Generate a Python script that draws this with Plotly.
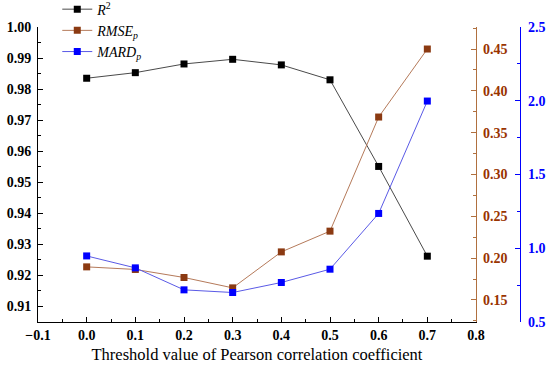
import plotly.graph_objects as go

thresholds = [0.0, 0.1, 0.2, 0.3, 0.4, 0.5, 0.6, 0.7]
r2 = [0.9835, 0.9853, 0.9881, 0.9896, 0.9878, 0.9830, 0.9551, 0.9262]
rmse_p = [0.1896, 0.1865, 0.1769, 0.1645, 0.2075, 0.2323, 0.3687, 0.4500]
mard_p = [0.948, 0.867, 0.718, 0.700, 0.768, 0.858, 1.236, 1.998]

x_title = "Threshold value of Pearson correlation coefficient"
names = ["<i>R</i><sup>2</sup>", "<i>RMSE</i><sub><i>p</i></sub>", "<i>MARD</i><sub><i>p</i></sub>"]

SERIF = "Liberation Serif, Times New Roman, serif"
RMSE_AX = "#B0703F"
RMSE_TXT = "#993300"
BLUE = "#0000FF"
Y_DOMAIN = [0, 0.9161]
FS = 14

fig = go.Figure()
fig.add_trace(go.Scatter(x=thresholds, y=r2, name=names[0], mode="lines+markers",
                         line=dict(color="#4a4a4a", width=1),
                         marker=dict(symbol="square", size=7, color="#000000"),
                         yaxis="y"))
fig.add_trace(go.Scatter(x=thresholds, y=rmse_p, name=names[1], mode="lines+markers",
                         line=dict(color="#B57A5A", width=1),
                         marker=dict(symbol="square", size=7, color="#8B3A12"),
                         yaxis="y2"))
fig.add_trace(go.Scatter(x=thresholds, y=mard_p, name=names[2], mode="lines+markers",
                         line=dict(color="#5A5AE6", width=1),
                         marker=dict(symbol="square", size=7, color=BLUE),
                         yaxis="y3"))

tickfont = dict(family=SERIF, size=FS, color="#000000", weight="bold")

fig.update_layout(
    width=550, height=373,
    margin=dict(l=38, r=30, t=0, b=51, autoexpand=False),
    plot_bgcolor="white", paper_bgcolor="white",
    showlegend=True,
    legend=dict(x=0.04, y=1.02, xanchor="left", yanchor="top",
                bgcolor="rgba(0,0,0,0)", borderwidth=0,
                font=dict(family=SERIF, size=14, color="#000000"),
                tracegroupgap=0, itemwidth=30),
    xaxis=dict(domain=[0, 0.9087], range=[-0.1, 0.8], dtick=0.1, tick0=0,
               tickformat=".1f", showgrid=False, zeroline=False, automargin=False,
               showline=True, linecolor="#000000", linewidth=1,
               ticks="inside", ticklen=5, tickcolor="#000000",
               minor=dict(ticks="inside", ticklen=3, dtick=0.05, tickcolor="#000000"),
               tickfont=tickfont,
               title=dict(text=x_title, font=dict(family=SERIF, size=16.5, color="#000000"),
                          standoff=6)),
    yaxis=dict(domain=Y_DOMAIN, range=[0.905, 1.0], dtick=0.01, tick0=0.91, tickformat=".2f",
               showgrid=False, zeroline=False, automargin=False,
               showline=True, linecolor="#000000", linewidth=1,
               ticks="inside", ticklen=5, tickcolor="#000000",
               minor=dict(ticks="inside", ticklen=3, dtick=0.005, tickcolor="#000000"),
               tickfont=tickfont, ticklabelstandoff=3),
    yaxis2=dict(domain=Y_DOMAIN, range=[0.1237, 0.4763], dtick=0.05, tick0=0.15, tickformat=".2f",
                overlaying="y", side="right", anchor="x",
                showgrid=False, zeroline=False, automargin=False,
                showline=True, linecolor=RMSE_AX, linewidth=1.3,
                ticks="inside", ticklen=5, tickcolor=RMSE_AX,
                minor=dict(ticks="inside", ticklen=3, dtick=0.025, tickcolor=RMSE_AX),
                tickfont=dict(family=SERIF, size=FS, color=RMSE_TXT, weight="bold"),
                ticklabelstandoff=3),
    yaxis3=dict(domain=Y_DOMAIN, range=[0.5, 2.5], dtick=0.5, tick0=0.5, tickformat=".1f",
                overlaying="y", side="right", anchor="free", position=1.0,
                showgrid=False, zeroline=False, automargin=False,
                showline=True, linecolor=BLUE, linewidth=1.3,
                ticks="inside", ticklen=5, tickcolor=BLUE,
                minor=dict(ticks="inside", ticklen=3, dtick=0.25, tickcolor=BLUE),
                tickfont=dict(family=SERIF, size=FS, color=BLUE, weight="bold"),
                ticklabelstandoff=4),
)

fig.write_html("out.html", config={"displayModeBar": False},
               post_script="document.body.style.margin='0';document.body.style.padding='0';")
